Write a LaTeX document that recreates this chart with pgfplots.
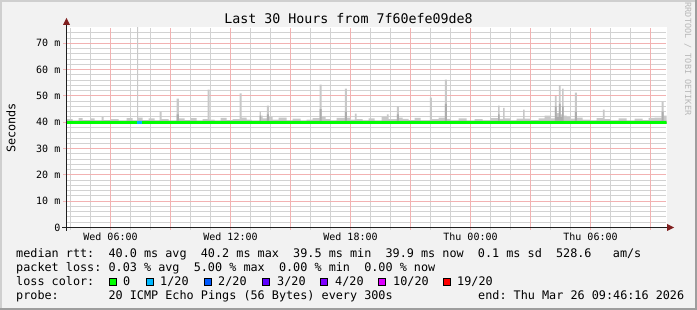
\documentclass[border=0pt]{standalone}
\usepackage{pgfplots}
\usepackage{pgfplotstable}
\pgfplotsset{compat=1.18}
\usepackage{fontspec}
\setmainfont{DejaVu Sans Mono}
\setmonofont{DejaVu Sans Mono}
\frenchspacing

\definecolor{bgc}{HTML}{F2F2F2}
\definecolor{shadea}{HTML}{CFCFCF}
\definecolor{shadeb}{HTML}{9E9E9E}
\definecolor{gridc}{HTML}{D2D2D2}
\definecolor{mgridc}{HTML}{F2B2B2}
\definecolor{arrowc}{HTML}{801F1F}
\definecolor{axisc}{HTML}{1F1F1F}
\definecolor{smokeL}{HTML}{C8C8C8}
\definecolor{smokeD}{HTML}{ACACAC}
\definecolor{wmark}{HTML}{B8B8B8}
\definecolor{lzero}{HTML}{00FF00}
\definecolor{lone}{HTML}{00B8FF}
\definecolor{ltwo}{HTML}{0059FF}
\definecolor{lthree}{HTML}{5E00FF}
\definecolor{lfour}{HTML}{7E00FF}
\definecolor{lten}{HTML}{DD00FF}
\definecolor{lnineteen}{HTML}{FF0000}

% smoke: upper (max ping) envelope, hours since Wed 00:00
\pgfplotstableread{
x y
3.80 39.5
3.80 41.2
4.10 40.6
4.40 41.6
4.60 40.8
5.00 41.5
5.20 40.7
5.55 42.0
5.65 40.8
6.00 41.2
6.40 40.6
6.80 41.6
7.10 40.7
7.325 80
7.375 41.8
7.60 40.8
7.90 41.5
8.20 40.7
8.45 44
8.55 41.2
8.90 40.6
9.30 49
9.42 41.5
9.70 40.8
10.00 41.6
10.30 40.6
10.60 41.2
10.85 52.4
10.95 41.0
11.20 40.6
11.50 41.7
11.80 40.8
12.10 41.2
12.45 51
12.55 41.8
12.80 41.0
13.05 40.6
13.45 44
13.52 42.5
13.60 41.5
13.82 46.3
13.92 42.0
14.10 41.0
14.40 41.8
14.80 40.7
15.10 41.4
15.50 40.6
15.80 41.0
16.10 41.6
16.45 54.3
16.55 42.0
16.75 41.2
17.00 40.7
17.30 41.7
17.72 52.8
17.82 41.8
18.00 41.0
18.22 43.3
18.30 41.2
18.60 40.7
18.90 41.5
19.20 40.6
19.55 42.0
19.82 43
19.90 41.2
20.32 46
20.42 41.8
20.60 41.3
20.90 40.8
21.20 41.7
21.50 40.7
21.97 49.4
22.07 41.2
22.40 41.8
22.72 56.2
22.82 41.3
23.00 40.7
23.40 41.5
23.80 40.6
24.20 41.2
24.60 40.7
25.00 41.6
25.38 46.3
25.46 41.3
25.63 45.5
25.71 41.5
26.00 40.7
26.30 41.4
26.63 44.8
26.71 41.4
27.00 40.8
27.40 41.5
27.70 42.5
28.00 41.5
28.22 50
28.30 43.5
28.42 54
28.50 43
28.58 52.8
28.66 42.5
28.80 42.0
29.00 41.4
29.22 51.3
29.32 41.8
29.60 41.0
30.00 40.7
30.30 41.6
30.62 44.8
30.70 41.2
31.00 40.7
31.40 41.5
31.80 40.6
32.20 41.4
32.60 40.8
32.90 41.7
33.20 41.8
33.55 47.8
33.65 42.5
33.80 42.5
33.80 39.5
}\smokehi

% smoke: inner (darker) band
\pgfplotstableread{
x y
3.80 39.5
3.80 40.6
9.30 43
9.42 40.6
13.45 42.5
13.52 40.6
13.82 43
13.92 40.6
16.45 45
16.55 40.6
17.72 44
17.82 40.6
20.32 43
20.42 40.6
22.72 47
22.82 40.6
25.38 43
25.46 40.6
28.22 46
28.30 42
28.42 47
28.50 42
28.58 46
28.66 40.6
29.22 44
29.32 40.6
33.55 44
33.65 40.6
33.80 40.6
33.80 39.5
}\smokein

% median rtt (ms)
\pgfplotstableread{
x y
3.8 40.0
5.3 40.05
6.8 40.0
8.3 39.95
9.8 40.0
11.3 40.05
12.8 40.0
14.3 39.95
15.8 40.0
17.3 40.05
18.8 40.0
20.3 39.95
21.8 40.0
23.3 40.05
24.8 40.0
26.3 39.95
27.8 40.0
29.3 40.05
30.8 40.0
32.3 39.95
33.8 40.0
}\median

% loss 1/20 segment
\pgfplotstableread{
x y
7.30 40.0
7.55 40.0
}\lossone

\begin{document}
\begin{tikzpicture}
% canvas and 3D frame
\path[use as bounding box, fill=bgc] (0pt,0pt) rectangle (697pt,-310pt);
\fill[shadea] (0pt,0pt) rectangle (697pt,-2pt);
\fill[shadea] (0pt,0pt) rectangle (2pt,-310pt);
\fill[shadeb] (0pt,-308pt) rectangle (697pt,-310pt);
\fill[shadeb] (695pt,0pt) rectangle (697pt,-310pt);
% plot canvas
\fill[white] (66.5pt,-27.5pt) rectangle (666.5pt,-227.5pt);

% grid (1 px = 1 pt), drawn as light lines
\begin{scope}[line width=1pt]
\foreach \yy in {222.5,216.5,211.5,206.5,195.5,190.5,185.5,180.5,169.5,164.5,159.5,153.5,143.5,138.5,132.5,127.5,116.5,111.5,106.5,101.5,90.5,85.5,80.5,74.5,64.5,59.5,53.5,48.5,38.5,32.5}{
  \draw[gridc] (67pt,-\yy pt) -- (666pt,-\yy pt);
}
\foreach \xx in {70.5,90.5,130.5,150.5,190.5,210.5,250.5,270.5,310.5,330.5,370.5,390.5,430.5,450.5,490.5,510.5,550.5,570.5,610.5,630.5}{
  \draw[gridc] (\xx pt,-230pt) -- (\xx pt,-28pt);
}
\foreach \yy in {201.5,174.5,148.5,122.5,95.5,69.5,43.5}{
  \draw[mgridc] (63pt,-\yy pt) -- (666pt,-\yy pt);
}
\foreach \xx in {110.5,170.5,230.5,290.5,350.5,410.5,470.5,530.5,590.5,650.5}{
  \draw[mgridc] (\xx pt,-230pt) -- (\xx pt,-28pt);
}
\end{scope}

\begin{axis}[
  at={(66.5pt,-227.5pt)}, anchor=south west,
  scale only axis, width=600pt, height=200pt,
  xmin=3.8, xmax=33.8, ymin=0, ymax=76,
  axis x line=bottom, axis y line=left,
  axis line style={draw=none},
  xtick={6,12,18,24,30},
  xticklabels={Wed 06:00,Wed 12:00,Wed 18:00,Thu 00:00,Thu 06:00},
  ytick={0,10,20,30,40,50,60,70},
  yticklabels={0,10 m,20 m,30 m,40 m,50 m,60 m,70 m},
  major tick length=0pt,
  tick style={draw=none},
  xticklabel style={font=\fontsize{10}{12}\selectfont, anchor=base, inner sep=0pt, yshift=-13pt},
  yticklabel style={font=\fontsize{10}{12}\selectfont, anchor=east, inner sep=0pt, xshift=-6pt},
  clip=true,
]
\addplot[const plot, fill=smokeL, draw=none] table[x=x,y=y] {\smokehi};
\addplot[const plot, fill=smokeD, draw=none] table[x=x,y=y] {\smokein};
\addplot[const plot, draw=lzero, line width=3pt] table[x=x,y=y] {\median};
\addplot[const plot, draw=lone, line width=3pt] table[x=x,y=y] {\lossone};
\end{axis}

% axes with arrows
\draw[axisc, line width=1pt] (62pt,-227.5pt) -- (668pt,-227.5pt);
\fill[arrowc] (667pt,-224pt) -- (674pt,-227.5pt) -- (667pt,-231pt) -- cycle;
\draw[axisc, line width=1pt] (66.5pt,-231pt) -- (66.5pt,-24pt);
\fill[arrowc] (63pt,-25pt) -- (66.5pt,-18pt) -- (70pt,-25pt) -- cycle;

% title, axis label, watermark
\node[anchor=base, inner sep=0pt] at (348.5pt,-24pt) {\fontsize{13.3}{16}\selectfont Last 30 Hours from 7f60efe09de8};
\node[rotate=90, inner sep=0pt] at (11pt,-128pt) {\fontsize{11.8}{14}\selectfont Seconds};
\node[rotate=-90, inner sep=0pt, text=wmark] at (688pt,-59pt) {\fontsize{8.5}{10}\selectfont RRDTOOL / TOBI OETIKER};

% legend rows
\begin{scope}[every node/.style={anchor=base west, inner sep=0pt, font=\fontsize{11.8}{14}\selectfont}]
\node at (16pt,-258pt) {median rtt:~~40.0 ms avg~~40.2 ms max~~39.5 ms min~~39.9 ms now~~0.1 ms sd~~528.6~~~am/s};
\node at (16pt,-272pt) {packet loss: 0.03 \% avg~~5.00 \% max~~0.00 \% min~~0.00 \% now};
\node at (16pt,-286pt) {loss color:};
\node at (123pt,-286pt) {0};
\node at (160pt,-286pt) {1/20};
\node at (218pt,-286pt) {2/20};
\node at (277pt,-286pt) {3/20};
\node at (335pt,-286pt) {4/20};
\node at (393pt,-286pt) {10/20};
\node at (457pt,-286pt) {19/20};
\node at (16pt,-299.5pt) {probe:~~~~~~~20 ICMP Echo Pings (56 Bytes) every 300s};
\node at (478pt,-299.5pt) {end: Thu Mar 26 09:46:16 2026};
\end{scope}
\begin{scope}[line width=0.8pt]
\filldraw[fill=lzero, draw=black] (109pt,-278pt) rectangle (116pt,-285.5pt);
\filldraw[fill=lone, draw=black] (146pt,-278pt) rectangle (153pt,-285.5pt);
\filldraw[fill=ltwo, draw=black] (204pt,-278pt) rectangle (211pt,-285.5pt);
\filldraw[fill=lthree, draw=black] (262pt,-278pt) rectangle (269pt,-285.5pt);
\filldraw[fill=lfour, draw=black] (320pt,-278pt) rectangle (327pt,-285.5pt);
\filldraw[fill=lten, draw=black] (378pt,-278pt) rectangle (385pt,-285.5pt);
\filldraw[fill=lnineteen, draw=black] (443pt,-278pt) rectangle (450pt,-285.5pt);
\end{scope}
\end{tikzpicture}
\end{document}
